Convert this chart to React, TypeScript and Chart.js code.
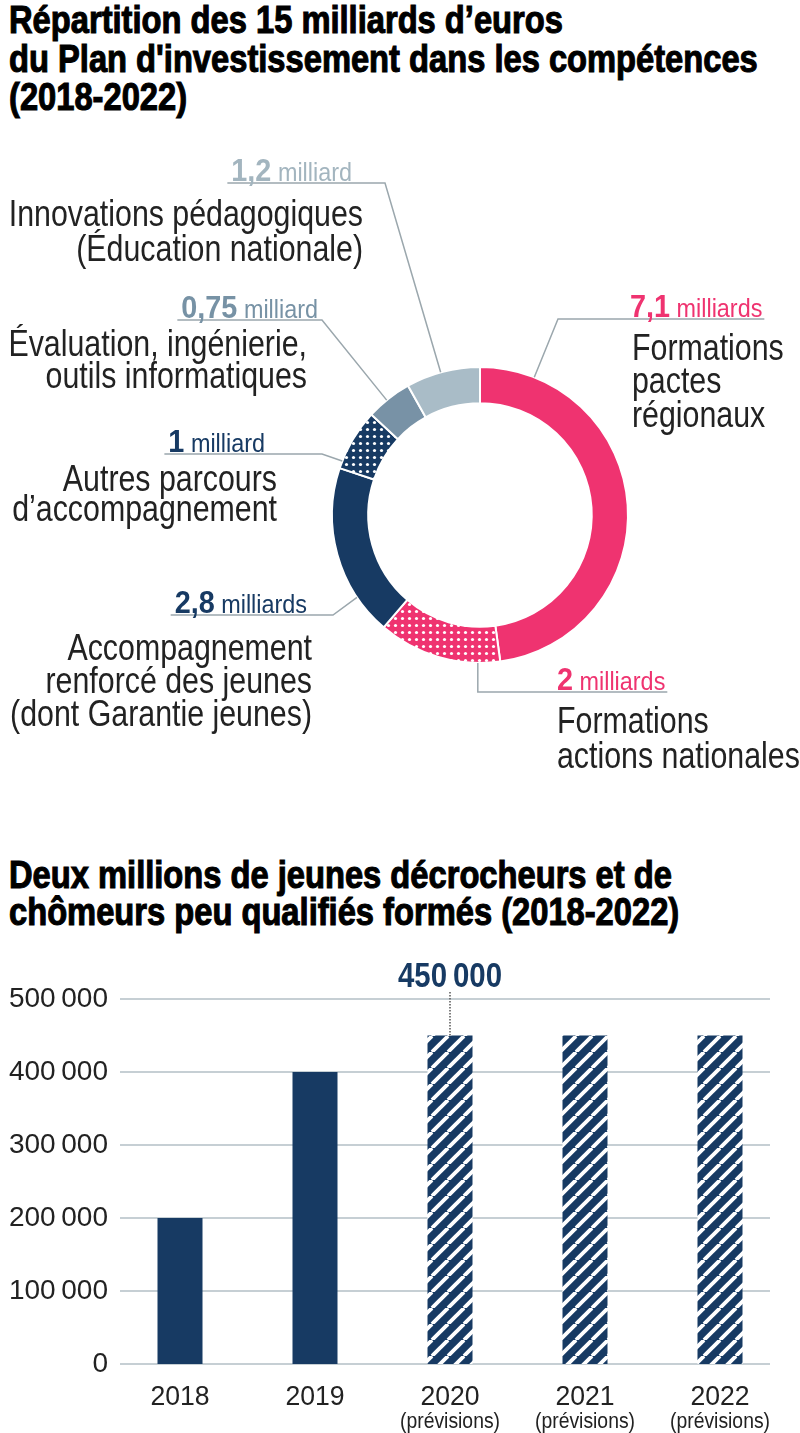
import React, { useEffect, useRef } from 'react';
import { Chart, registerables } from 'chart.js';

Chart.register(...registerables);

const SANS = '"Liberation Sans", Arial, sans-serif';
const NARROW_SCALE = 0.82;

// ---------- Doughnut data ----------
const shareNames = [
  'Formations pactes régionaux',
  'Formations actions nationales',
  'Accompagnement renforcé des jeunes (dont Garantie jeunes)',
  'Autres parcours d’accompagnement',
  'Évaluation, ingénierie, outils informatiques',
  'Innovations pédagogiques (Éducation nationale)',
];
const shareValues = [7.1, 2, 2.8, 1, 0.75, 1.2];
const shareValueTexts = ['7,1', '2', '2,8', '1', '0,75', '1,2'];
const shareUnits = ['milliards', 'milliards', 'milliards', 'milliard', 'milliard', 'milliard'];
const shareLines = [
  ['Formations', 'pactes', 'régionaux'],
  ['Formations', 'actions nationales'],
  ['Accompagnement', 'renforcé des jeunes', '(dont Garantie jeunes)'],
  ['Autres parcours', 'd’accompagnement'],
  ['Évaluation, ingénierie,', 'outils informatiques'],
  ['Innovations pédagogiques', '(Éducation nationale)'],
];

// ---------- Bar data ----------
const years = ['2018', '2019', '2020', '2021', '2022'];
const yearNotes = ['', '', '(prévisions)', '(prévisions)', '(prévisions)'];
const trainees = [200000, 400000, 450000, 450000, 450000];
const isForecast = [false, false, true, true, true];
const highlightIndex = 2;

// ---------- styles ----------
const PINK = '#ef3370';
const NAVY = '#173a63';
const SLATE = '#7892a6';
const LIGHT = '#a9bcc7';
const segColors = [PINK, PINK, NAVY, NAVY, SLATE, LIGHT];
const segDotted = [false, true, false, true, false, false];
const valueColors = [PINK, PINK, NAVY, NAVY, '#7792a5', '#a3b5bf'];
const LEADER = '#9ba7ad';
const TEXT = '#222222';

const DONUT_TOP = 125;
const DONUT_H = 680;
const BAR_TOP = 940;
const BAR_H = 493;

// label layout (page coordinates)
const labelLayout = [
  { side: 'right', valueX: 630, valueY: 317, textX: 632, textY: [360, 393, 427], frac: 0.125, elbowX: 558 },
  { side: 'right', valueX: 557, valueY: 690, textX: 557, textY: [733, 768], frac: 0.18, elbowX: null },
  { side: 'left', valueX: 307, valueY: 613, textX: 312, textY: [660, 693, 726], frac: 0.23, elbowX: 333 },
  { side: 'left', valueX: 265, valueY: 452, textX: 277, textY: [491, 521], frac: 0.12, elbowX: 322 },
  { side: 'left', valueX: 318, valueY: 318, textX: 307, textY: [356, 388], frac: 0.45, elbowX: 322 },
  { side: 'left', valueX: 352, valueY: 181, textX: 363, textY: [226, 261], frac: 0.47, elbowX: 385 },
];

function dotPattern(color: string): CanvasPattern | string {
  const s = 7;
  const c = document.createElement('canvas');
  c.width = s;
  c.height = s;
  const x = c.getContext('2d');
  if (!x) return color;
  x.fillStyle = color;
  x.fillRect(0, 0, s, s);
  x.fillStyle = '#ffffff';
  x.beginPath();
  x.arc(s / 2, s / 2, 1.6, 0, Math.PI * 2);
  x.fill();
  return x.createPattern(c, 'repeat') || color;
}

function hatchPattern(color: string): CanvasPattern | string {
  const s = 16;
  const c = document.createElement('canvas');
  c.width = s;
  c.height = s;
  const x = c.getContext('2d');
  if (!x) return color;
  x.fillStyle = color;
  x.fillRect(0, 0, s, s);
  x.strokeStyle = '#ffffff';
  x.lineWidth = 3.8;
  for (let k = -1; k <= 1; k++) {
    x.beginPath();
    x.moveTo(k * s, s);
    x.lineTo(k * s + s, 0);
    x.stroke();
  }
  return x.createPattern(c, 'repeat') || color;
}

const fmt = (v: number) => {
  const s = Math.round(v).toString();
  return s.replace(/\B(?=(\d{3})+(?!\d))/g, '\u2009');
};

// draws horizontally condensed text (real text via fillText)
function narrowText(
  ctx: CanvasRenderingContext2D,
  text: string,
  x: number,
  y: number,
  align: CanvasTextAlign,
  sx: number = NARROW_SCALE
) {
  ctx.save();
  ctx.translate(x, y);
  ctx.scale(sx, 1);
  ctx.textAlign = align;
  ctx.fillText(text, 0, 0);
  ctx.restore();
}

const donutLabelPlugin = {
  id: 'donutLabels',
  afterDatasetsDraw(chart: any) {
    const ctx = chart.ctx as CanvasRenderingContext2D;
    const meta = chart.getDatasetMeta(0);
    ctx.save();
    ctx.textBaseline = 'alphabetic';
    labelLayout.forEach((lay, i) => {
      const arc = meta.data[i];
      if (!arc) return;
      const p = arc.getProps(['x', 'y', 'startAngle', 'endAngle', 'outerRadius'], true);
      const a = p.startAngle + lay.frac * (p.endAngle - p.startAngle);
      const rx = p.x + Math.cos(a) * p.outerRadius;
      const ry = p.y + Math.sin(a) * p.outerRadius;
      const oy = -DONUT_TOP;

      const numFont = `bold 32px ${SANS}`;
      const unitFont = `26px ${SANS}`;
      const sx = 0.9;
      ctx.font = numFont;
      const wNum = ctx.measureText(shareValueTexts[i]).width * sx;
      ctx.font = unitFont;
      const wSp = ctx.measureText(' ').width * sx;
      const wUnit = ctx.measureText(shareUnits[i]).width * sx;
      const total = wNum + wSp + wUnit;
      const startX = lay.side === 'left' ? lay.valueX - total : lay.valueX;
      const vy = lay.valueY + oy;

      // leader line
      const uy = vy + 2;
      ctx.strokeStyle = LEADER;
      ctx.lineWidth = 1.5;
      ctx.beginPath();
      if (lay.side === 'left') {
        ctx.moveTo(startX - 4, uy);
        ctx.lineTo(lay.elbowX as number, uy);
        ctx.lineTo(rx, ry);
      } else if (lay.elbowX !== null) {
        ctx.moveTo(startX + total + 2, uy);
        ctx.lineTo(lay.elbowX as number, uy);
        ctx.lineTo(rx, ry);
      } else {
        ctx.moveTo(startX + total + 2, uy);
        ctx.lineTo(rx, uy);
        ctx.lineTo(rx, ry);
      }
      ctx.stroke();

      // value text
      ctx.fillStyle = valueColors[i];
      ctx.font = numFont;
      narrowText(ctx, shareValueTexts[i], startX, vy, 'left', sx);
      ctx.font = unitFont;
      narrowText(ctx, shareUnits[i], startX + wNum + wSp, vy, 'left', sx);

      // description
      ctx.fillStyle = TEXT;
      ctx.font = `37px ${SANS}`;
      const align: CanvasTextAlign = lay.side === 'left' ? 'right' : 'left';
      shareLines[i].forEach((line, j) => {
        narrowText(ctx, line, lay.textX, lay.textY[j] + oy, align);
      });
    });
    ctx.restore();
  },
};

const gridPlugin = {
  id: 'customGrid',
  beforeDatasetsDraw(chart: any) {
    const ctx = chart.ctx as CanvasRenderingContext2D;
    const y = chart.scales.y;
    ctx.save();
    ctx.strokeStyle = '#c6cfd4';
    ctx.lineWidth = 2;
    y.ticks.forEach((t: any) => {
      const py = Math.round(y.getPixelForValue(t.value));
      ctx.beginPath();
      ctx.moveTo(120, py);
      ctx.lineTo(770, py);
      ctx.stroke();
    });
    ctx.restore();
  },
};

const xLabelPlugin = {
  id: 'xLabels',
  afterDraw(chart: any) {
    const ctx = chart.ctx as CanvasRenderingContext2D;
    const x = chart.scales.x;
    ctx.save();
    ctx.fillStyle = TEXT;
    ctx.textBaseline = 'alphabetic';
    years.forEach((yr, i) => {
      const px = x.getPixelForValue(i);
      ctx.font = `28px ${SANS}`;
      narrowText(ctx, yr, px, 1405 - BAR_TOP, 'center', 0.95);
      if (yearNotes[i]) {
        ctx.font = `22px ${SANS}`;
        narrowText(ctx, yearNotes[i], px, 1428 - BAR_TOP, 'center', 0.88);
      }
    });
    ctx.restore();
  },
};

const highlightPlugin = {
  id: 'highlight',
  afterDatasetsDraw(chart: any) {
    const ctx = chart.ctx as CanvasRenderingContext2D;
    const bar = chart.getDatasetMeta(0).data[highlightIndex];
    if (!bar) return;
    const p = bar.getProps(['x', 'y'], true);
    ctx.save();
    ctx.strokeStyle = '#555';
    ctx.lineWidth = 1.5;
    ctx.setLineDash([1.5, 1.5]);
    ctx.beginPath();
    ctx.moveTo(p.x, 992 - BAR_TOP);
    ctx.lineTo(p.x, p.y);
    ctx.stroke();
    ctx.setLineDash([]);
    ctx.fillStyle = NAVY;
    ctx.strokeStyle = NAVY;
    ctx.lineWidth = 0.8;
    ctx.font = `bold 35px ${SANS}`;
    ctx.textBaseline = 'alphabetic';
    narrowText(ctx, fmt(trainees[highlightIndex]), p.x, 987 - BAR_TOP, 'center', 0.84);
    ctx.restore();
  },
};

function Donut() {
  const ref = useRef<HTMLCanvasElement>(null);
  useEffect(() => {
    if (!ref.current) return;
    const fills = segColors.map((c, i) => (segDotted[i] ? dotPattern(c) : c));
    const chart = new Chart(ref.current, {
      type: 'doughnut',
      data: {
        labels: shareNames,
        datasets: [
          {
            data: shareValues,
            backgroundColor: fills as any,
            borderColor: '#ffffff',
            borderWidth: 2,
          },
        ],
      },
      options: {
        responsive: false,
        animation: false,
        events: [],
        radius: 148,
        cutout: 111,
        layout: { padding: { left: 332, right: 172, top: 390 - 148, bottom: DONUT_H - 390 - 148 } },
        plugins: { legend: { display: false }, tooltip: { enabled: false } },
      } as any,
      plugins: [donutLabelPlugin],
    });
    return () => chart.destroy();
  }, []);
  return (
    <canvas
      ref={ref}
      width={800}
      height={DONUT_H}
      style={{ position: 'absolute', left: 0, top: DONUT_TOP, width: 800, height: DONUT_H }}
    />
  );
}

function Bars() {
  const ref = useRef<HTMLCanvasElement>(null);
  useEffect(() => {
    if (!ref.current) return;
    const hatch = hatchPattern(NAVY);
    const chart = new Chart(ref.current, {
      type: 'bar',
      data: {
        labels: years,
        datasets: [
          {
            data: trainees,
            backgroundColor: trainees.map((_, i) => (isForecast[i] ? hatch : NAVY)) as any,
            borderWidth: 0,
            barPercentage: 1,
            categoryPercentage: 45 / 135,
          },
        ],
      },
      options: {
        responsive: false,
        animation: false,
        events: [],
        layout: { padding: { left: 0, right: 12.5, top: 999 - BAR_TOP, bottom: BAR_TOP + BAR_H - 1364 } },
        scales: {
          x: { display: false },
          y: {
            min: 0,
            max: 500000,
            afterFit: (s: any) => {
              s.width = 112.5;
            },
            ticks: {
              stepSize: 100000,
              padding: 4.5,
              color: TEXT,
              font: { family: SANS, size: 28 },
              callback: (v: any) => fmt(Number(v)),
            },
            grid: { display: false, drawTicks: false },
            border: { display: false },
          },
        },
        plugins: { legend: { display: false }, tooltip: { enabled: false } },
      } as any,
      plugins: [gridPlugin, xLabelPlugin, highlightPlugin],
    });
    return () => chart.destroy();
  }, []);
  return (
    <canvas
      ref={ref}
      width={800}
      height={BAR_H}
      style={{ position: 'absolute', left: 0, top: BAR_TOP, width: 800, height: BAR_H }}
    />
  );
}

const titleStyle: React.CSSProperties = {
  position: 'absolute',
  left: 9,
  margin: 0,
  fontFamily: SANS,
  fontWeight: 'bold',
  fontSize: 38,
  lineHeight: '38.5px',
  color: '#000',
  WebkitTextStroke: '1.1px #000',
  whiteSpace: 'nowrap',
  transform: 'scaleX(0.86)',
  transformOrigin: '0 0',
} as any;

export default function App() {
  return (
    <div
      style={{
        position: 'absolute',
        left: 0,
        top: 0,
        width: 800,
        height: 1433,
        background: '#ffffff',
        overflow: 'hidden',
      }}
    >
      <div style={{ ...titleStyle, top: 1 }}>
        Répartition des 15 milliards d’euros
        <br />
        du Plan d'investissement dans les compétences
        <br />
        (2018-2022)
      </div>
      <Donut />
      <div style={{ ...titleStyle, top: 857, lineHeight: '37px' }}>
        Deux millions de jeunes décrocheurs et de
        <br />
        chômeurs peu qualifiés formés (2018-2022)
      </div>
      <Bars />
    </div>
  );
}
